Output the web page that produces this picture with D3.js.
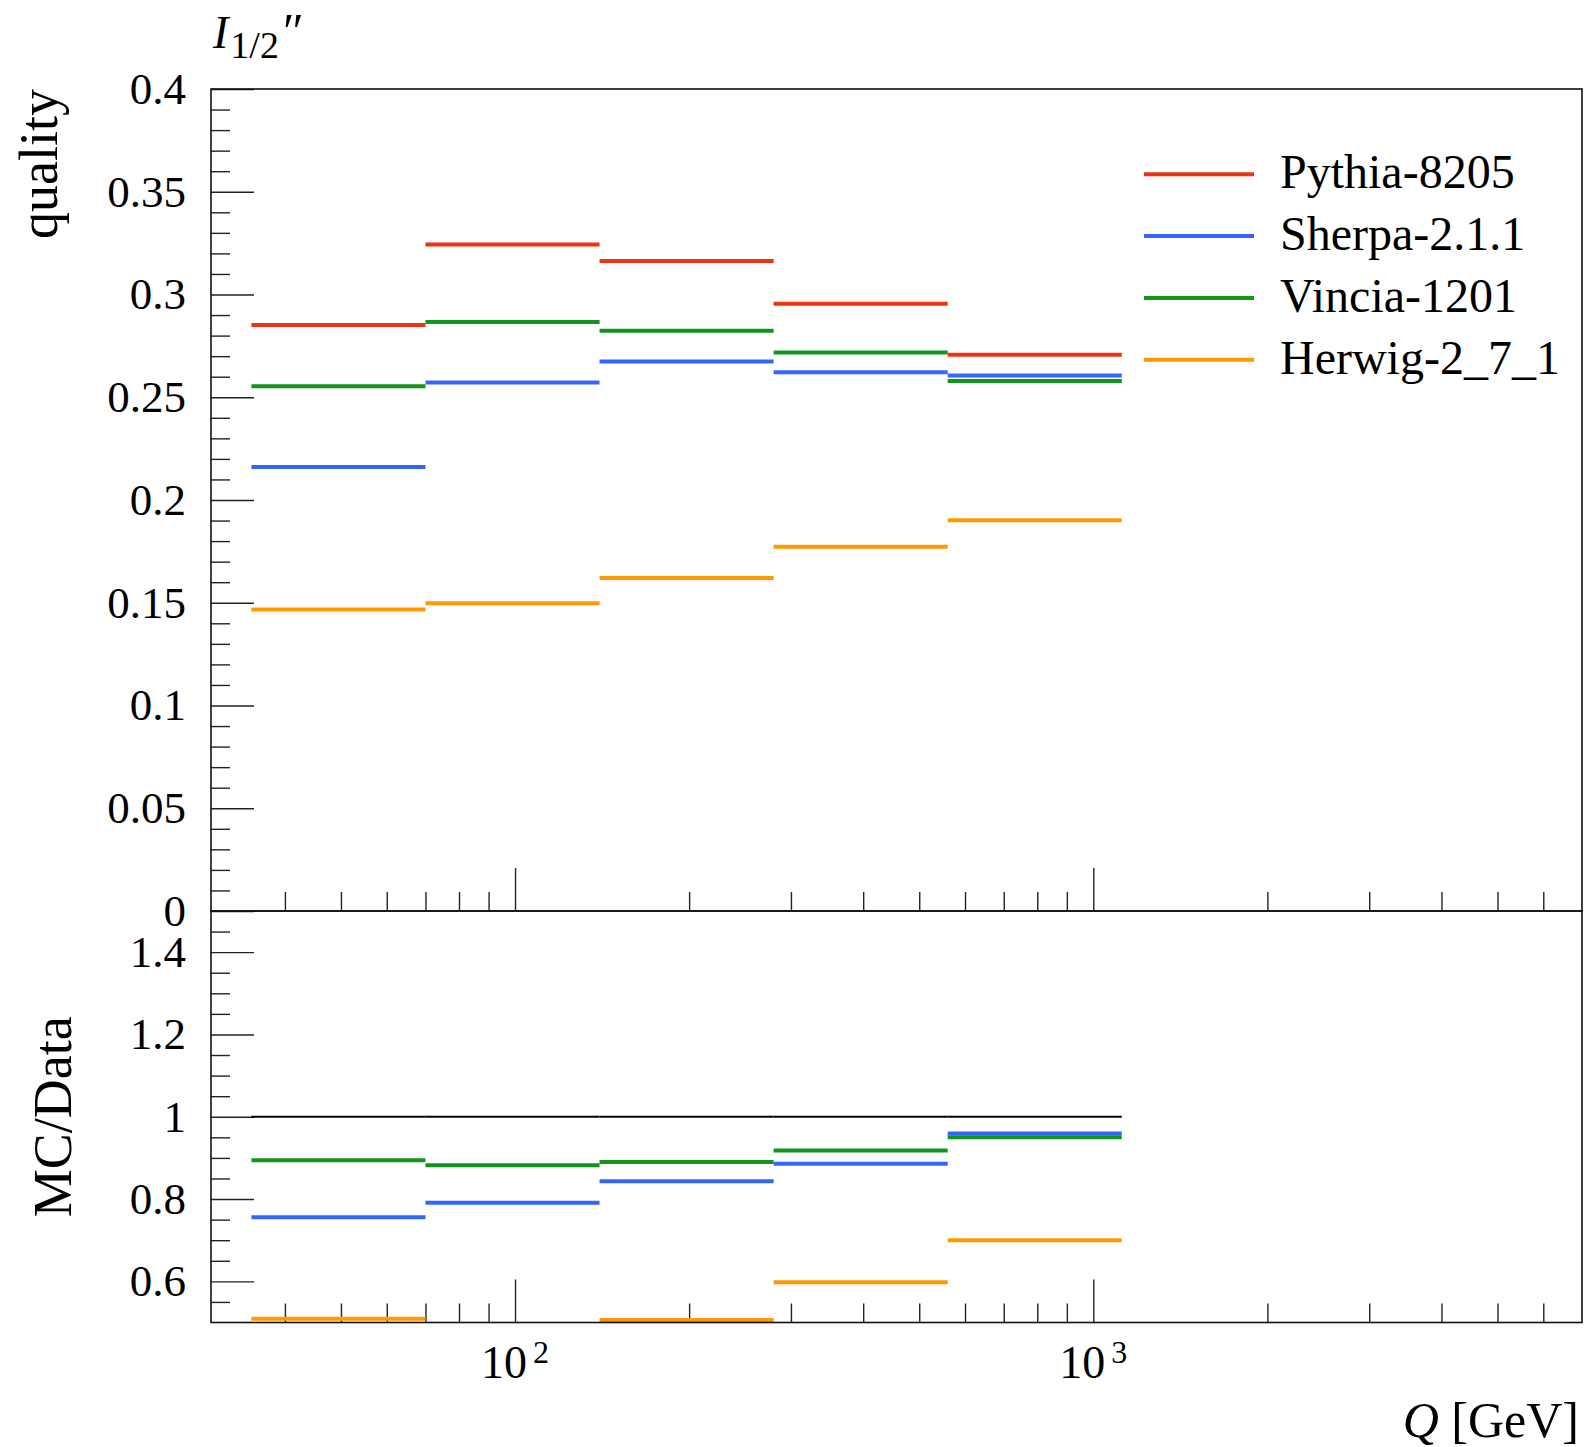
<!DOCTYPE html>
<html>
<head>
<meta charset="utf-8">
<script src="https://cdn.jsdelivr.net/npm/d3@7"></script>
<style>
  body { margin: 0; background: #fff; }
  text { font-family: "Liberation Serif", "DejaVu Serif", serif; fill: #000; }
</style>
</head>
<body>
<div id="plot"></div>
<script>
// Binned MC comparison: I_1/2'' quality vs Q, with MC/Data ratio panel

// Bin edges in Q [GeV]
const binEdges = [35, 70, 140, 280, 560, 1120];

// Series names (legend order)
const seriesNames = ["Pythia-8205", "Sherpa-2.1.1", "Vincia-1201", "Herwig-2_7_1"];

// Upper panel values, one per bin
const pythiaValues = [0.2852, 0.3243, 0.3163, 0.2955, 0.2707];
const sherpaValues = [0.2160, 0.2572, 0.2674, 0.2622, 0.2606];
const vinciaValues = [0.2553, 0.2866, 0.2824, 0.2718, 0.2579];
const herwigValues = [0.1467, 0.1497, 0.1621, 0.1772, 0.1902];

// Ratio panel values (MC/Data), one per bin
const pythiaRatio = [1, 1, 1, 1, 1];
const sherpaRatio = [0.756, 0.791, 0.843, 0.886, 0.959];
const vinciaRatio = [0.894, 0.882, 0.890, 0.918, 0.950];
const herwigRatio = [0.509, 0.462, 0.506, 0.598, 0.700];

// Tick values and labels
const upperTicks = [0, 0.05, 0.1, 0.15, 0.2, 0.25, 0.3, 0.35, 0.4];
const upperTickLabels = ["0", "0.05", "0.1", "0.15", "0.2", "0.25", "0.3", "0.35", "0.4"];
const ratioTicks = [0.6, 0.8, 1, 1.2, 1.4];
const ratioTickLabels = ["0.6", "0.8", "1", "1.2", "1.4"];
const xMajorTicks = [100, 1000];
const xMajorExponents = ["2", "3"];

// Frame geometry
const W = 1589, H = 1447;
const frame = {left: 211, right: 1582, top: 89, mid: 911, bottom: 1322.5};

const svg = d3.select("#plot")
    .append("svg")
        .attr("width", W)
        .attr("height", H);

// Scales
const x = d3.scaleLog()
    .domain([29.8, 7000])
    .range([frame.left, frame.right]);

const yTop = d3.scaleLinear()
    .domain([0, 0.4])
    .range([frame.mid, frame.top]);

const yRatio = d3.scaleLinear()
    .domain([0.5, 1.5])
    .range([frame.bottom, frame.mid]);

const color = d3.scaleOrdinal()
    .domain(seriesNames)
    .range(["#ee3311", "#3366ff", "#109618", "#ff9900"]);

const series = [
    {name: seriesNames[0], values: pythiaValues, ratio: pythiaRatio},
    {name: seriesNames[1], values: sherpaValues, ratio: sherpaRatio},
    {name: seriesNames[2], values: vinciaValues, ratio: vinciaRatio},
    {name: seriesNames[3], values: herwigValues, ratio: herwigRatio}
];

// one segment per bin
const segments = (s, key) => s[key].map((v, i) => ({name: s.name, v: v, x0: binEdges[i], x1: binEdges[i + 1]}));

// clip paths for the two panels
const defs = svg.append("defs");
defs.append("clipPath").attr("id", "clipTop")
    .append("rect")
        .attr("x", frame.left).attr("y", frame.top)
        .attr("width", frame.right - frame.left).attr("height", frame.mid - frame.top);
defs.append("clipPath").attr("id", "clipRatio")
    .append("rect")
        .attr("x", frame.left).attr("y", frame.mid)
        .attr("width", frame.right - frame.left).attr("height", frame.bottom - frame.mid);

// Minor tick values
const yTopMinor = d3.range(1, 40).map(d => d / 100).filter(d => Math.round(d * 100) % 5 !== 0);
const yRatioMinor = d3.range(11, 30).map(d => d / 20).filter(d => Math.round(d * 20) % 4 !== 0);
const xMinor = [];
[10, 100, 1000].forEach(dec => d3.range(2, 10).forEach(m => {
    const v = dec * m;
    if (v > 30 && v < 7000) xMinor.push(v);
}));

function styleAxis(g) {
    g.select(".domain").remove();
    g.selectAll(".tick line").attr("stroke", "#222").attr("stroke-width", 1.4);
}

// Y axes upper panel
svg.append("g")
    .attr("transform", `translate(${frame.left},0)`)
    .call(d3.axisLeft(yTop).tickValues(yTopMinor).tickSize(-19).tickFormat(""))
    .call(styleAxis);
svg.append("g")
    .attr("transform", `translate(${frame.left},0)`)
    .call(d3.axisLeft(yTop).tickValues(upperTicks).tickSize(-43).tickPadding(25)
        .tickFormat((d, i) => upperTickLabels[i]))
    .call(styleAxis)
    .attr("font-family", null)
    .attr("font-size", 45);

// Y axes ratio panel
svg.append("g")
    .attr("transform", `translate(${frame.left},0)`)
    .call(d3.axisLeft(yRatio).tickValues(yRatioMinor).tickSize(-19).tickFormat(""))
    .call(styleAxis);
svg.append("g")
    .attr("transform", `translate(${frame.left},0)`)
    .call(d3.axisLeft(yRatio).tickValues(ratioTicks).tickSize(-43).tickPadding(25)
        .tickFormat((d, i) => ratioTickLabels[i]))
    .call(styleAxis)
    .attr("font-family", null)
    .attr("font-size", 45);

// X ticks on both panels (pointing inwards)
[frame.mid, frame.bottom].forEach(yPos => {
    svg.append("g")
        .attr("transform", `translate(0,${yPos})`)
        .call(d3.axisBottom(x).tickValues(xMinor).tickSize(-19).tickFormat(""))
        .call(styleAxis);
    svg.append("g")
        .attr("transform", `translate(0,${yPos})`)
        .call(d3.axisBottom(x).tickValues(xMajorTicks).tickSize(-43).tickFormat(""))
        .call(styleAxis);
});

// X tick labels 10^n
const xLab = svg.append("g").selectAll("text")
    .data(xMajorTicks)
    .join("text")
        .attr("x", d => x(d))
        .attr("y", 1378)
        .attr("text-anchor", "middle")
        .style("font-size", "46px");
xLab.append("tspan").text("10");
xLab.append("tspan")
    .attr("dx", 6)
    .attr("dy", -15)
    .style("font-size", "32px")
    .text((d, i) => xMajorExponents[i]);

// Upper panel lines
svg.append("g")
    .attr("clip-path", "url(#clipTop)")
    .selectAll("g")
    .data(series)
    .join("g")
        .attr("stroke", d => color(d.name))
        .attr("stroke-width", 4)
        .selectAll("line")
        .data(d => segments(d, "values"))
        .join("line")
            .attr("x1", d => x(d.x0))
            .attr("x2", d => x(d.x1))
            .attr("y1", d => yTop(d.v))
            .attr("y2", d => yTop(d.v));

// Ratio panel lines (reference drawn in black)
svg.append("g")
    .attr("clip-path", "url(#clipRatio)")
    .selectAll("g")
    .data(series)
    .join("g")
        .attr("stroke", (d, i) => i === 0 ? "#000" : color(d.name))
        .attr("stroke-width", (d, i) => i === 0 ? 2 : 4)
        .selectAll("line")
        .data(d => segments(d, "ratio"))
        .join("line")
            .attr("x1", d => x(d.x0))
            .attr("x2", d => x(d.x1))
            .attr("y1", d => yRatio(d.v))
            .attr("y2", d => yRatio(d.v));

// Frames
svg.append("rect")
    .attr("x", frame.left).attr("y", frame.top)
    .attr("width", frame.right - frame.left).attr("height", frame.mid - frame.top)
    .attr("fill", "none").attr("stroke", "#111").attr("stroke-width", 1.6);
svg.append("rect")
    .attr("x", frame.left).attr("y", frame.mid)
    .attr("width", frame.right - frame.left).attr("height", frame.bottom - frame.mid)
    .attr("fill", "none").attr("stroke", "#111").attr("stroke-width", 1.6);

// Legend
const legend = svg.append("g")
    .selectAll("g")
    .data(seriesNames)
    .join("g")
        .attr("transform", (d, i) => `translate(0,${174.3 + i * 61.8})`);
legend.append("line")
    .attr("x1", 1144).attr("x2", 1254)
    .attr("stroke", d => color(d))
    .attr("stroke-width", 4);
legend.append("text")
    .attr("x", 1280)
    .attr("y", 14)
    .style("font-size", "48px")
    .text(d => d);

// Title
const title = svg.append("text")
    .attr("x", 213)
    .attr("y", 48)
    .style("font-size", "46px");
title.append("tspan").style("font-style", "italic").text("I");
title.append("tspan").attr("dy", 10).attr("dx", 2).style("font-size", "38px").text("1/2");
title.append("tspan").attr("dy", -10).attr("dx", 4).style("font-size", "50px").text("\u2033");

// Y axis labels
svg.append("text")
    .attr("transform", `translate(57,${frame.top}) rotate(-90)`)
    .attr("text-anchor", "end")
    .style("font-size", "54px")
    .text("quality");

svg.append("text")
    .attr("transform", `translate(71,${(frame.mid + frame.bottom) / 2}) rotate(-90)`)
    .attr("text-anchor", "middle")
    .style("font-size", "54px")
    .text("MC/Data");

// X axis label
const xTitle = svg.append("text")
    .attr("x", 1579)
    .attr("y", 1437)
    .attr("text-anchor", "end")
    .style("font-size", "50px");
xTitle.append("tspan").style("font-style", "italic").text("Q");
xTitle.append("tspan").text(" [GeV]");
</script>
</body>
</html>
